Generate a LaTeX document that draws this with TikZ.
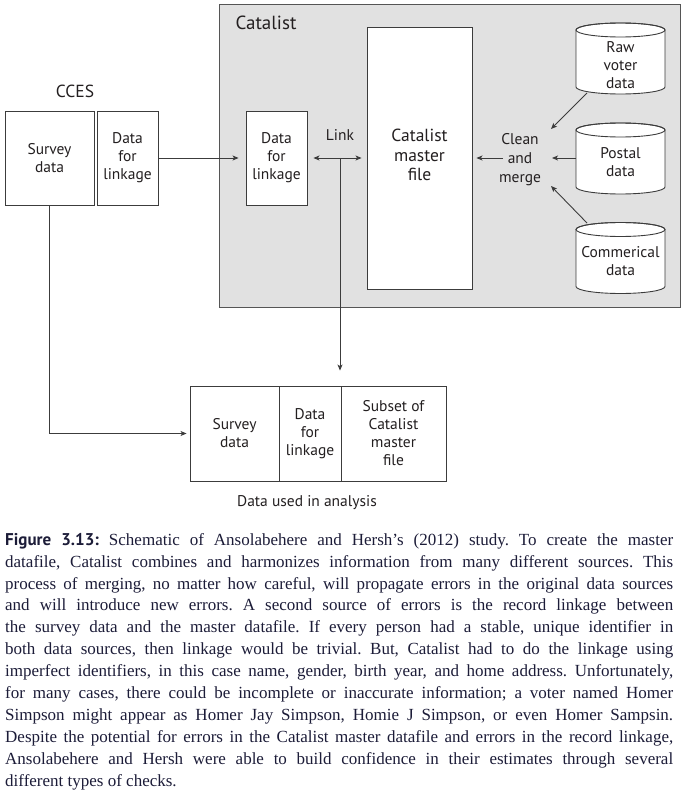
\documentclass[tikz,border=0pt]{standalone}
\usepackage{fontspec}
\setmainfont{Liberation Serif}
\newfontfamily\diagfont{PT Sans}
\usetikzlibrary{arrows.meta}
\definecolor{ink}{HTML}{231F20}
\definecolor{linecol}{HTML}{3C3C3C}
\definecolor{panelfill}{HTML}{E1E1E1}
\definecolor{panelline}{HTML}{555555}
\definecolor{captink}{HTML}{1C1C38}
\tikzset{
  dbcyl/.pic={
    \draw[draw=linecol, line width=0.9bp, fill=white]
      (-44.5,-28.5) -- (-44.5,28.5)
      arc[start angle=180, end angle=0, x radius=44.5, y radius=7]
      -- (44.5,-28.5)
      arc[start angle=0, end angle=-180, x radius=44.5, y radius=7] -- cycle;
    \draw[draw=linecol, line width=0.9bp] (0,-28.5) ellipse[x radius=44.5, y radius=7];
  }
}
\begin{document}
\begin{tikzpicture}[x=1bp, y=-1bp,
  txt/.style={font=\diagfont\fontsize{15.5bp}{18bp}\selectfont, text=ink, align=center, inner sep=0pt},
  box/.style={txt, draw=linecol, line width=0.9bp, fill=white},
  conn/.style={draw=linecol, line width=0.9bp},
  tip/.style={-{Stealth[length=6bp, width=5bp, inset=1.5bp]}},
  both/.style={{Stealth[length=6bp, width=5bp, inset=1.5bp]}-{Stealth[length=6bp, width=5bp, inset=1.5bp]}}
]
\useasboundingbox (0,0) rectangle (683,791);

% Catalist panel
\node[draw=panelline, fill=panelfill, line width=1bp, minimum width=461bp, minimum height=302bp, inner sep=0pt] (catpanel) at (449.5,156) {};
\node[txt, font=\diagfont\fontsize{19bp}{22bp}\selectfont] (cattitle) at (266,23) {Catalist};

% CCES
\node[txt, font=\diagfont\fontsize{17.5bp}{20bp}\selectfont] (cces) at (75,91) {CCES};
\node[box, minimum width=89bp, minimum height=94bp] (surv) at (49.5,158) {Survey\\data};
\node[box, minimum width=61bp, minimum height=94bp] (dfl1) at (127.5,158) {Data\\for\\linkage};

% Catalist contents
\node[box, minimum width=61bp, minimum height=94bp] (dfl2) at (276.5,158) {Data\\for\\linkage};
\node[txt] (linklbl) at (340,135) {Link};
\node[box, minimum width=105bp, minimum height=262bp] (master) at (419.5,158) {};
\node[txt, font=\diagfont\fontsize{17.5bp}{19.5bp}\selectfont] (mastertxt) at (419.5,155) {Catalist\\master\\file};
\node[txt, font=\diagfont\fontsize{15.5bp}{19bp}\selectfont] (clean) at (520,160) {Clean\\and\\merge};

\pic at (620.5,58.5) {dbcyl};
\pic at (620.5,158.5) {dbcyl};
\pic at (620.5,258) {dbcyl};
\node[txt] (raw) at (620.5,65) {Raw\\voter\\data};
\node[txt] (postal) at (620.5,162) {Postal\\data};
\node[txt] (comm) at (620.5,261) {Commerical\\data};

\coordinate (rawfoot) at (587,93);
\coordinate (cmNE) at (551,129);
\coordinate (postalW) at (576,158);
\coordinate (cmE) at (552,158);
\coordinate (commtop) at (587,223);
\coordinate (cmSE) at (551,186);
\coordinate (cmW) at (503,158);
\coordinate (linkmid) at (340,158);

% bottom combined box
\node[box, minimum width=89bp, minimum height=95bp] (bsurv) at (234.5,433.5) {Survey\\data};
\node[box, minimum width=62bp, minimum height=95bp] (bdfl) at (310,433.5) {Data\\for\\linkage};
\node[box, minimum width=105bp, minimum height=95bp] (bsub) at (393.5,433.5) {Subset of\\Catalist\\master\\file};
\node[txt] (used) at (307,503) {Data used in analysis};

% connectors
\draw[conn, tip, shorten >=7bp] (dfl1) -- (dfl2);
\draw[conn, both, shorten <=6bp, shorten >=5bp] (dfl2) -- (master);
\draw[conn, tip, shorten >=4bp] (cmW) -- (master.east);
\draw[conn, tip] (postalW) -- (cmE);
\draw[conn, tip] (rawfoot) -- (cmNE);
\draw[conn, tip] (commtop) -- (cmSE);
\draw[conn, tip, shorten >=15bp] (linkmid) -- (linkmid |- bdfl.north);
\draw[conn, tip, shorten >=3bp] (surv.south) |- (bsurv.west);

% caption
\node[anchor=north west, inner sep=0pt, text width=668bp, align=justify, text=captink,
      font=\fontsize{17bp}{21.95bp}\selectfont] (caption) at (5,532.8) {%
\frenchspacing\hyphenpenalty=10000\exhyphenpenalty=10000\tolerance=10000
{\diagfont\bfseries Figure 3.13:} Schematic of Ansolabehere and Hersh’s (2012) study. To create the master\linebreak
datafile, Catalist combines and harmonizes information from many different sources. This\linebreak
process of merging, no matter how careful, will propagate errors in the original data sources\linebreak
and will introduce new errors. A second source of errors is the record linkage between\linebreak
the survey data and the master datafile. If every person had a stable, unique identifier in\linebreak
both data sources, then linkage would be trivial. But, Catalist had to do the linkage using\linebreak
imperfect identifiers, in this case name, gender, birth year, and home address. Unfortunately,\linebreak
for many cases, there could be incomplete or inaccurate information; a voter named Homer\linebreak
Simpson might appear as Homer Jay Simpson, Homie J Simpson, or even Homer Sampsin.\linebreak
Despite the potential for errors in the Catalist master datafile and errors in the record linkage,\linebreak
Ansolabehere and Hersh were able to build confidence in their estimates through several\linebreak
different types of checks.};
\end{tikzpicture}
\end{document}
